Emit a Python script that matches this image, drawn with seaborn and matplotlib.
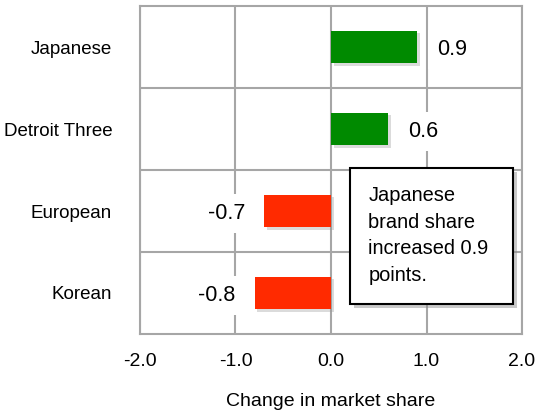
import matplotlib
matplotlib.use("Agg")
import matplotlib.pyplot as plt
import matplotlib.patheffects as pe
from matplotlib.patches import Rectangle
import seaborn as sns
import pandas as pd

# data
brands = ["Japanese", "Detroit Three", "European", "Korean"]
change = [0.9, 0.6, -0.7, -0.8]
xticks = [-2, -1, 0, 1, 2]
note = "Japanese\nbrand share\nincreased 0.9\npoints."

sns.set_style("white", rc={"text.color": "black", "axes.labelcolor": "black",
                           "xtick.color": "black", "ytick.color": "black"})
plt.rcParams["font.family"] = ["Liberation Sans", "DejaVu Sans"]

grid_col = "#a6a6a6"
colors = ["#008a00" if v > 0 else "#ff2a00" for v in change]

df = pd.DataFrame({"brand": brands, "change": change})

fig = plt.figure(figsize=(5.38, 4.15), dpi=100)
ax = fig.add_axes([0.2602, 0.1952, 0.7101, 0.7903])

sns.barplot(data=df, x="change", y="brand", hue="brand", palette=colors,
            orient="h", width=0.4, legend=False, ax=ax, saturation=1,
            linewidth=0, zorder=3)

# soft drop shadow on the bars
shadow = [pe.SimplePatchShadow(offset=(2, -2), shadow_rgbFace="#999999", alpha=0.35), pe.Normal()]
for p in ax.patches:
    p.set_path_effects(shadow)

ax.set_xlim(-2, 2)
ax.set_ylim(3.5, -0.5)
ax.set_xticks(xticks)
ax.set_xticklabels([f"{t:.1f}" for t in xticks], fontsize=14)
ax.set_yticks(range(len(brands)))
ax.set_yticklabels(brands, fontsize=13.5)
ax.set_yticks([0.5, 1.5, 2.5], minor=True)
ax.tick_params(axis="y", which="both", length=0, pad=20)
ax.tick_params(axis="x", length=4, width=1.5, color=grid_col, labelcolor="black", pad=10)
ax.grid(True, axis="x", color=grid_col, lw=1.5, zorder=0)
ax.grid(True, axis="y", which="minor", color=grid_col, lw=1.5, zorder=0)
ax.grid(False, axis="y", which="major")
ax.set_axisbelow(True)
for s in ax.spines.values():
    s.set_color(grid_col)
    s.set_linewidth(1.5)
ax.set_ylabel("")
ax.set_xlabel("Change in market share", fontsize=14, labelpad=16)

# value labels
for i, v in enumerate(change):
    off = 0.21 if v > 0 else -0.2
    ax.text(v + off, i + 0.03, f"{v:.1f}", ha="left" if v > 0 else "right", va="center",
            fontsize=15.5, zorder=4,
            bbox=dict(boxstyle="square,pad=0.4", fc="white", ec="none"))

# annotation box
box = Rectangle((0.2, 1.476), 1.706, 1.658, fc="white", ec="black", lw=1.5, zorder=5)
box.set_path_effects([pe.SimplePatchShadow(offset=(3, -3), shadow_rgbFace="#888888", alpha=0.45), pe.Normal()])
ax.add_patch(box)
ax.text(0.39, 1.70, note, ha="left", va="top", fontsize=14.4, linespacing=1.5, zorder=6)

fig.savefig("out.png", dpi=100)
